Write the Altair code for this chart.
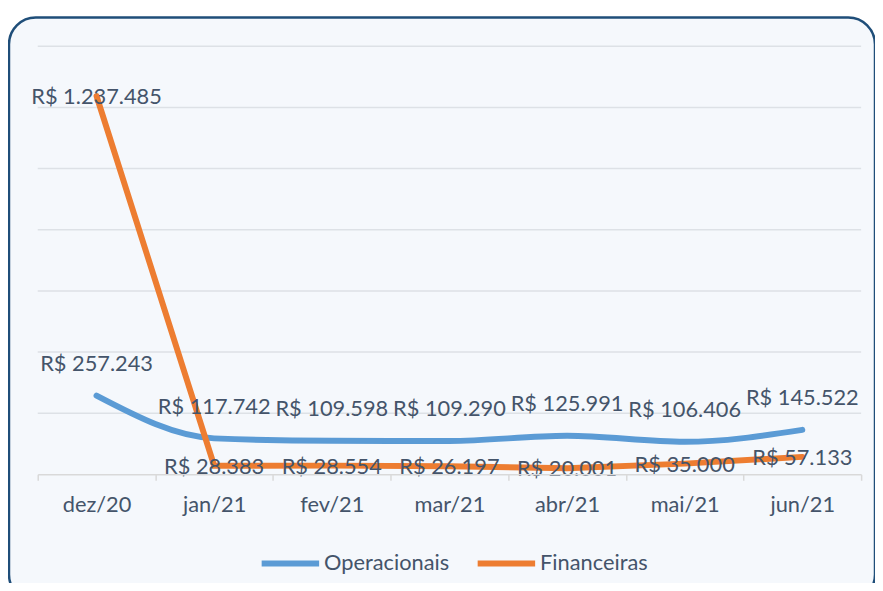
import altair as alt
import pandas as pd

months = ["dez/20", "jan/21", "fev/21", "mar/21", "abr/21", "mai/21", "jun/21"]
operacionais = [257243, 117742, 109598, 109290, 125991, 106406, 145522]
financeiras = [1237485, 28383, 28554, 26197, 20001, 35000, 57133]
series_names = ["Operacionais", "Financeiras"]
series_colors = ["#5b9bd5", "#ed7d31"]
grid_values = [200000, 400000, 600000, 800000, 1000000, 1200000, 1400000]


def fmt(v):
    return "R$ " + f"{v:,}".replace(",", ".")


rows = []
for m, o, f in zip(months, operacionais, financeiras):
    rows.append({"mes": m, "serie": "Operacionais", "valor": o, "rotulo": fmt(o)})
    rows.append({"mes": m, "serie": "Financeiras", "valor": f, "rotulo": fmt(f)})
df = pd.DataFrame(rows)

FONT = "Lato"
TXT = "#44546a"
FS = 22

x_enc = alt.X(
    "mes:N",
    sort=months,
    bandPosition=0.5,
    scale=alt.Scale(type="band", paddingInner=0, paddingOuter=0),
    axis=alt.Axis(
        title=None,
        labelAngle=0,
        labelFont=FONT,
        labelFontSize=FS,
        labelColor=TXT,
        labelPadding=15,
        tickBand="extent",
        tickSize=6,
        tickColor="#d9d9d9",
        tickWidth=1.5,
        domainColor="#d9d9d9",
        domainWidth=1.5,
        grid=False,
        zindex=1,
    ),
)
y_enc = alt.Y(
    "valor:Q",
    scale=alt.Scale(domain=[0, 1400000], nice=False),
    axis=None,
)
color_enc = alt.Color(
    "serie:N",
    sort=series_names,
    scale=alt.Scale(domain=series_names, range=series_colors),
    legend=alt.Legend(
        title=None,
        orient="none",
        direction="horizontal",
        legendX=223,
        legendY=490,
        symbolType="stroke",
        symbolSize=3364,
        symbolStrokeWidth=6,
        labelFont=FONT,
        labelFontSize=FS,
        labelColor=TXT,
        labelOffset=2,
        columnPadding=16,
        padding=0,
    ),
)

base = alt.Chart(df)

box = alt.Chart(pd.DataFrame({"k": [0]})).mark_rect(
    fill="#f5f8fc", stroke="#1f4e79", strokeWidth=2.5, cornerRadius=27
).encode(
    x=alt.value(-29), x2=alt.value(845), y=alt.value(-29), y2=alt.value(560)
)

grid = alt.Chart(pd.DataFrame({"g": grid_values})).mark_rule(
    color="#dde1e6", strokeWidth=1.5
).encode(
    y=alt.Y("g:Q", scale=alt.Scale(domain=[0, 1400000], nice=False), axis=None),
    x=alt.value(0),
    x2=alt.value(831),
)

line_op = base.transform_filter(alt.datum.serie == "Operacionais").mark_line(
    strokeWidth=6, interpolate="monotone", strokeCap="round"
).encode(x=x_enc, y=y_enc, color=color_enc)

line_fin = base.transform_filter(alt.datum.serie == "Financeiras").mark_line(
    strokeWidth=6, interpolate="linear", strokeCap="round"
).encode(x=x_enc, y=y_enc, color=color_enc)

text_op = base.transform_filter(alt.datum.serie == "Operacionais").mark_text(
    font=FONT, fontSize=FS, color=TXT, baseline="middle", dy=-32
).encode(x=x_enc, y=y_enc, text="rotulo:N")

text_fin = base.transform_filter(alt.datum.serie == "Financeiras").mark_text(
    font=FONT, fontSize=FS, color=TXT, baseline="middle", dy=1
).encode(x=x_enc, y=y_enc, text="rotulo:N")

chart = alt.layer(box, grid, line_op, line_fin, text_op, text_fin).properties(
    width=831,
    height=432,
    autosize=alt.AutoSizeParams(type="none"),
    padding={"left": 30, "top": 36, "right": 14, "bottom": 107},
    background="white",
).configure_view(stroke=None)

chart.save("out.html", embed_options={"renderer": "svg", "actions": False})
